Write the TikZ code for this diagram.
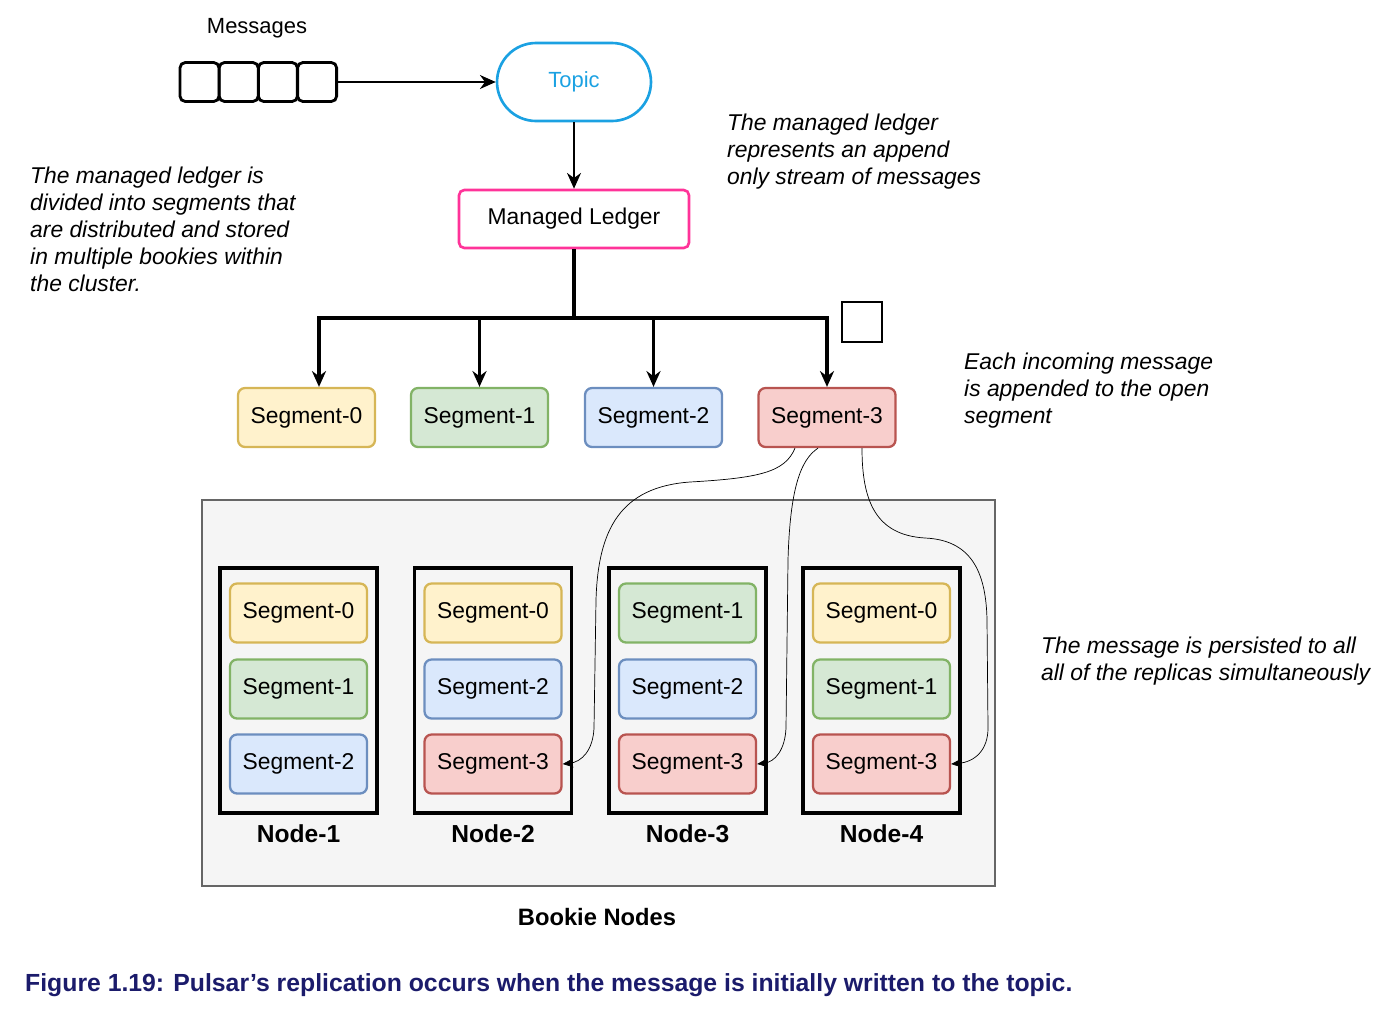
\documentclass[tikz,border=0pt]{standalone}
\usepackage{fontspec}
\setmainfont{Liberation Sans}
\usetikzlibrary{arrows.meta,positioning,calc}

\definecolor{topicblue}{HTML}{1BA1E2}
\definecolor{ledgerpink}{HTML}{FF3399}
\definecolor{yelfill}{HTML}{FFF2CC}
\definecolor{yeldraw}{HTML}{D6B656}
\definecolor{grnfill}{HTML}{D5E8D4}
\definecolor{grndraw}{HTML}{82B366}
\definecolor{blufill}{HTML}{DAE8FC}
\definecolor{bludraw}{HTML}{6C8EBF}
\definecolor{redfill}{HTML}{F8CECC}
\definecolor{reddraw}{HTML}{B85450}
\definecolor{bookiefill}{HTML}{F5F5F5}
\definecolor{bookiedraw}{HTML}{666666}
\definecolor{captionblue}{HTML}{1B1B6B}

\begin{document}
\begin{tikzpicture}[x=0.02cm,y=-0.02cm,>={Stealth[length=9pt,width=8pt]},
	font=\fontsize{13}{15}\selectfont,
	seg/.style={draw, rounded corners=4pt, line width=1.3pt, minimum width=2.74cm, minimum height=1.18cm, inner sep=0pt},
	seg0/.style={seg, fill=yelfill, draw=yeldraw},
	seg1/.style={seg, fill=grnfill, draw=grndraw},
	seg2/.style={seg, fill=blufill, draw=bludraw},
	seg3/.style={seg, fill=redfill, draw=reddraw},
	msg/.style={draw, line width=1.6pt, rounded corners=3pt, minimum size=0.78cm, inner sep=0pt},
	nodebox/.style={draw, line width=2pt, minimum width=3.14cm, minimum height=4.9cm, inner sep=0pt},
	branch/.style={line width=1.8pt},
	replica/.style={thin, -{Stealth[length=6pt,width=5pt]}},
	note/.style={align=left, anchor=north west, font=\fontsize{13}{15.3}\selectfont\itshape},
	boldlabel/.style={font=\fontsize{14}{16}\selectfont\bfseries}]

	\useasboundingbox (0,0) rectangle (1395,1022);

	% Draw the message queue and its label
	\foreach \i in {0,...,3}
		\node[msg] (m\i) at (199.5+39.2*\i,82) {};
	\node[font=\fontsize{12.5}{14}\selectfont] (msglabel) at (257,28) {Messages};

	% Draw the topic and the managed ledger
	\node[draw=topicblue, line width=1.5pt, text=topicblue, rounded corners=0.78cm,
		minimum width=3.08cm, minimum height=1.56cm, font=\fontsize{12.5}{14}\selectfont] (topic) at (574,82) {Topic};
	\node[draw=ledgerpink, line width=1.5pt, rounded corners=3pt,
		minimum width=4.6cm, minimum height=1.16cm] (ledger) at (574,219) {Managed Ledger};
	\draw[->, thick] (m3.east) -- (topic.west);
	\draw[->, thick] (topic.south) -- (ledger.north);

	% Draw the four segments of the ledger
	\foreach \s/\x in {0/306.5, 1/479.5, 2/653.5, 3/827}
		\node[seg\s] (s\s) at (\x,417.5) {Segment-\s};

	% Draw the split from the ledger to the segments
	\draw[line width=2.4pt] (ledger.south) -- (574,318) coordinate (split);
	\draw[branch,->] (split) -| ([xshift=0.25cm]s0.north);
	\draw[branch,->] (split) -| (s1.north);
	\draw[branch,->] (split) -| (s2.north);
	\draw[branch,->] (split) -| (s3.north);

	% Draw the open segment square
	\node[draw, line width=1.6pt, minimum size=0.8cm, inner sep=0pt] (opensq) at (862,322) {};

	% Draw the bookie nodes area
	\node[draw=bookiedraw, fill=bookiefill, line width=0.8pt, minimum width=15.86cm, minimum height=7.72cm] (bookie) at (598.5,693) {};
	\node[font=\fontsize{13.5}{15}\selectfont\bfseries] (bookielabel) at (597,917) {Bookie Nodes};

	% Draw each bookie with its segments
	\foreach \k/\x/\a/\b/\c in {1/298.5/0/1/2, 2/493/0/2/3, 3/687.5/1/2/3, 4/881.5/0/1/3} {
		\node[nodebox] (n\k) at (\x,690.5) {};
		\node[seg\a] (n\k a) at (\x,613) {Segment-\a};
		\node[seg\b] (n\k b) at (\x,689) {Segment-\b};
		\node[seg\c] (n\k c) at (\x,764) {Segment-\c};
		\node[boldlabel] (n\k label) at (\x,834) {Node-\k};
	}

	% Draw the replication of segment 3 to the bookies
	\draw[replica] ([xshift=-0.64cm]s3.south) .. controls (785,472) and (760,478) .. (690,482)
		.. controls (620,487) and (598,530) .. (596,600) -- (594,728)
		.. controls (593,750) and (582,762) .. (n2c.east);
	\draw[replica] ([xshift=-0.18cm]s3.south) .. controls (800,460) and (790,490) .. (788,560)
		-- (786,728) .. controls (785,750) and (775,762) .. (n3c.east);
	\draw[replica] ([xshift=0.7cm]s3.south) .. controls (862,500) and (875,535) .. (925,538)
		.. controls (970,540) and (986,570) .. (987,620) -- (988,728)
		.. controls (988,750) and (975,762) .. (n4c.east);

	% Draw the notes
	\node[note] (leftnote) at (24,161) {The managed ledger is\\divided into segments that\\are distributed and stored\\in multiple bookies within\\the cluster.};
	\node[note] (ledgernote) at (721,108) {The managed ledger\\represents an append\\only stream of messages};
	\node[note] (opennote) at (958,347) {Each incoming message\\is appended to the open\\segment};
	\node[note] (replicanote) at (1035,631) {The message is persisted to all\\all of the replicas simultaneously};

	% Draw the caption
	\node[anchor=west, text=captionblue, font=\fontsize{14.1}{16}\selectfont\bfseries] (caption) at (19,985)
		{Figure 1.19: Pulsar’s replication occurs when the message is initially written to the topic.};

\end{tikzpicture}
\end{document}
